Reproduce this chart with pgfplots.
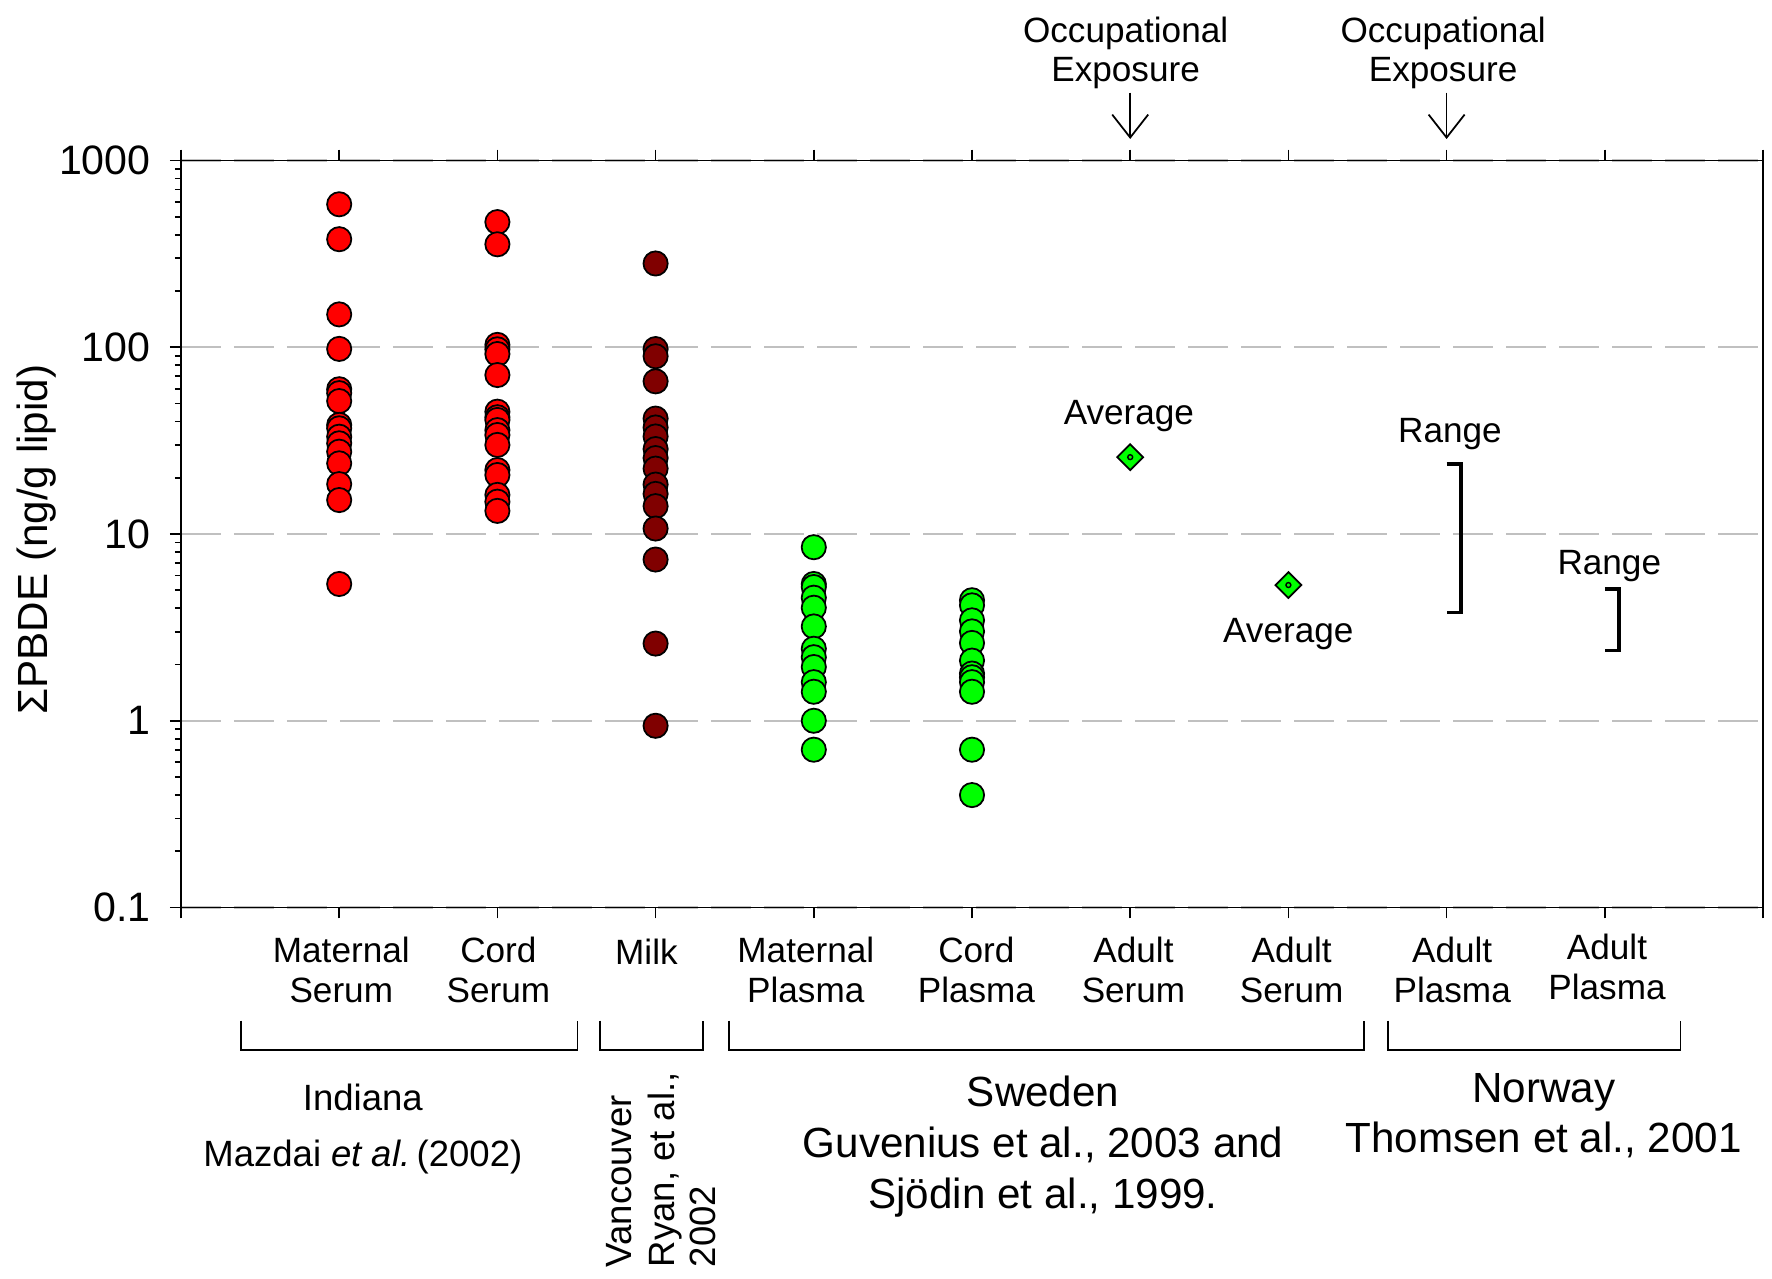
\documentclass[border=0pt]{standalone}
\usepackage{pgfplots}
\pgfplotsset{compat=1.18}
\usepackage{fontspec}
\setmainfont{Liberation Sans}
\usetikzlibrary{arrows.meta}
\definecolor{ptred}{RGB}{255,0,0}
\definecolor{ptdark}{RGB}{128,0,0}
\definecolor{ptgreen}{RGB}{0,255,0}
\definecolor{gridgray}{RGB}{192,192,192}
\begin{document}
\begin{tikzpicture}
\begin{axis}[
  name=ax, at={(0,0)}, anchor=south west, scale only axis,
  width=15.82cm, height=7.47cm,
  xmin=0, xmax=10, ymode=log, ymin=0.1, ymax=1000,
  xtick={0,1,...,10}, xticklabels={},
  ytick={0.1,1,10,100,1000},
  yticklabels={\textrm{0.1},\textrm{1},\textrm{10},\textrm{100},\textrm{1000}},
  yticklabel style={font=\fontsize{11.7}{13}\selectfont, xshift=-0.07cm},
  tick align=outside, xtick pos=both, ytick pos=left,
  major tick length=0.11cm, minor tick length=0.06cm,
  every tick/.style={black, line width=0.5pt},
  axis line style={line width=0.5pt},
  ymajorgrids,
  major grid style={gridgray, line width=0.6pt, dash pattern=on 0.4cm off 0.13cm},
  clip=false,
]
% Maternal serum
\addplot[only marks, mark=*, mark size=3.45pt, mark options={fill=ptred, draw=black, line width=0.5pt}]
coordinates {(1,583) (1,379) (1,150) (1,98) (1,59.6) (1,56.8) (1,51.5) (1,38.4) (1,36.8) (1,33.2) (1,30.6) (1,27.6) (1,23.9) (1,18.5) (1,15.2) (1,5.4)};
% Cord serum
\addplot[only marks, mark=*, mark size=3.45pt, mark options={fill=ptred, draw=black, line width=0.5pt}]
coordinates {(2,468) (2,356) (2,103) (2,97.5) (2,92) (2,71) (2,45.2) (2,42.2) (2,40.8) (2,36) (2,33.9) (2,30) (2,22) (2,20.7) (2,16.2) (2,14.9) (2,13.3)};
% Milk
\addplot[only marks, mark=*, mark size=3.45pt, mark options={fill=ptdark, draw=black, line width=0.5pt}]
coordinates {(3,281) (3,97.8) (3,89.5) (3,65.7) (3,41.5) (3,37.2) (3,33.3) (3,28.5) (3,25.5) (3,22.4) (3,18.4) (3,16.4) (3,14.1) (3,10.7) (3,7.3) (3,2.59) (3,0.94)};
% Maternal plasma
\addplot[only marks, mark=*, mark size=3.45pt, mark options={fill=ptgreen, draw=black, line width=0.5pt}]
coordinates {(4,8.5) (4,5.4) (4,5.2) (4,4.56) (4,4.03) (4,3.2) (4,2.43) (4,2.19) (4,1.94) (4,1.61) (4,1.43) (4,1.0) (4,0.70)};
% Cord plasma
\addplot[only marks, mark=*, mark size=3.45pt, mark options={fill=ptgreen, draw=black, line width=0.5pt}]
coordinates {(5,4.42) (5,4.15) (5,3.45) (5,3.01) (5,2.61) (5,2.1) (5,1.79) (5,1.71) (5,1.61) (5,1.43) (5,0.70) (5,0.40)};
% Averages
\addplot[only marks, mark=square*, mark size=2.6pt, mark options={rotate=45, fill=ptgreen, draw=black, line width=0.5pt}]
coordinates {(6,25.8) (7,5.33)};
\addplot[only marks, mark=o, mark size=0.7pt, mark options={draw=black, line width=0.4pt}]
coordinates {(6,25.8) (7,5.33)};
% Ranges
\addplot[no marks, black, line width=1.1pt] coordinates {(8.0,23.8) (8.09,23.8) (8.09,3.8) (8.0,3.8)};
\addplot[no marks, black, line width=1.1pt] coordinates {(9.0,5.05) (9.09,5.05) (9.09,2.38) (9.0,2.38)};
\end{axis}
% y label
\node[rotate=90, font=\fontsize{12}{14}\selectfont] at (-1.448cm,3.679cm) {ΣPBDE (ng/g lipid)};
% category labels
\begin{scope}[every node/.style={anchor=base, inner sep=0pt, font=\fontsize{10}{12}\selectfont}]
\node at (1.603cm,-0.545cm) {Maternal}; \node at (1.603cm,-0.952cm) {Serum};
\node at (3.174cm,-0.545cm) {Cord}; \node at (3.174cm,-0.952cm) {Serum};
\node at (4.654cm,-0.567cm) {Milk};
\node at (6.248cm,-0.545cm) {Maternal}; \node at (6.248cm,-0.952cm) {Plasma};
\node at (7.954cm,-0.545cm) {Cord}; \node at (7.954cm,-0.952cm) {Plasma};
\node at (9.525cm,-0.545cm) {Adult}; \node at (9.525cm,-0.952cm) {Serum};
\node at (11.107cm,-0.545cm) {Adult}; \node at (11.107cm,-0.952cm) {Serum};
\node at (12.712cm,-0.545cm) {Adult}; \node at (12.712cm,-0.952cm) {Plasma};
\node at (14.26cm,-0.523cm) {Adult}; \node at (14.26cm,-0.917cm) {Plasma};
% annotations
\node at (9.479cm,4.834cm) {Average};
\node at (11.073cm,2.653cm) {Average};
\node at (12.689cm,4.654cm) {Range};
\node at (14.283cm,3.331cm) {Range};
\node at (9.446cm,8.654cm) {Occupational}; \node at (9.446cm,8.259cm) {Exposure};
\node at (12.621cm,8.654cm) {Occupational}; \node at (12.621cm,8.259cm) {Exposure};
\end{scope}
\draw[line width=0.5pt, -{Straight Barb[length=2.3mm, width=3.6mm]}] (9.492cm,8.148cm) -- (9.492cm,7.685cm);
\draw[line width=0.5pt, -{Straight Barb[length=2.3mm, width=3.6mm]}] (12.656cm,8.148cm) -- (12.656cm,7.685cm);
% group brackets
\draw[line width=0.5pt] (0.597cm,-1.13cm) -- (0.597cm,-1.424cm) -- (3.965cm,-1.424cm) -- (3.965cm,-1.13cm);
\draw[line width=0.5pt] (4.191cm,-1.13cm) -- (4.191cm,-1.424cm) -- (5.219cm,-1.424cm) -- (5.219cm,-1.13cm);
\draw[line width=0.5pt] (5.479cm,-1.13cm) -- (5.479cm,-1.424cm) -- (11.83cm,-1.424cm) -- (11.83cm,-1.13cm);
\draw[line width=0.5pt] (12.068cm,-1.13cm) -- (12.068cm,-1.424cm) -- (14.995cm,-1.424cm) -- (14.995cm,-1.13cm);
% group labels
\begin{scope}[every node/.style={anchor=base, inner sep=0pt}]
\node[font=\fontsize{10.4}{12}\selectfont] at (1.818cm,-2.03cm) {Indiana};
\node[font=\fontsize{10.4}{12}\selectfont] at (1.818cm,-2.585cm) {Mazdai \textit{et al.}\,(2002)};
\node[font=\fontsize{12}{14}\selectfont] at (8.621cm,-1.994cm) {Sweden};
\node[font=\fontsize{12}{14}\selectfont] at (8.621cm,-2.502cm) {Guvenius et al., 2003 and};
\node[font=\fontsize{12}{14}\selectfont] at (8.621cm,-3.011cm) {Sjödin et al., 1999.};
\node[font=\fontsize{12}{14}\selectfont] at (13.627cm,-1.948cm) {Norway};
\node[font=\fontsize{12}{14}\selectfont] at (13.627cm,-2.452cm) {Thomsen et al., 2001};
\end{scope}
\begin{scope}[every node/.style={rotate=90, anchor=base west, inner sep=0pt, font=\fontsize{10.4}{12}\selectfont}]
\node at (4.502cm,-3.605cm) {Vancouver};
\node at (4.931cm,-3.605cm) {Ryan, et al.,};
\node at (5.349cm,-3.605cm) {2002};
\end{scope}
\pgfresetboundingbox
\path[use as bounding box] (-1.81cm,-3.705cm) rectangle (15.91cm,9.075cm);
\end{tikzpicture}
\end{document}
